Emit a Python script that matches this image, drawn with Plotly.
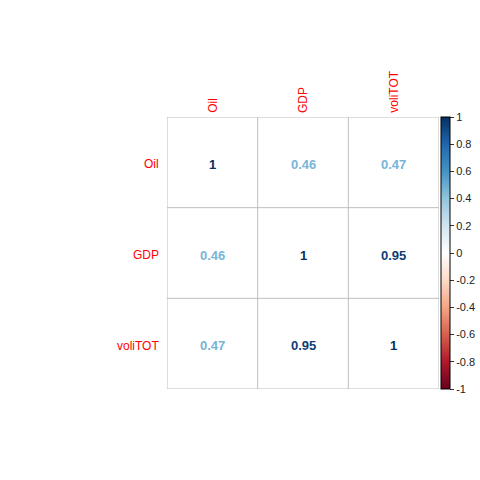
import plotly.graph_objects as go

variables = ["Oil", "GDP", "voliTOT"]
corr = [
    [1.00, 0.46, 0.47],
    [0.46, 1.00, 0.95],
    [0.47, 0.95, 1.00],
]
cbar_ticks = [1, 0.8, 0.6, 0.4, 0.2, 0, -0.2, -0.4, -0.6, -0.8, -1]

palette = ["#67001F", "#B2182B", "#D6604D", "#F4A582", "#FDDBC7", "#FFFFFF",
           "#D1E5F0", "#92C5DE", "#4393C3", "#2166AC", "#053061"]
n = len(palette)
colorscale = [[i / (n - 1), c] for i, c in enumerate(palette)]


def hex2rgb(h):
    h = h.lstrip("#")
    return [int(h[i:i + 2], 16) for i in (0, 2, 4)]


def val2color(v):
    t = (v + 1) / 2 * (n - 1)
    i = min(int(t), n - 2)
    f = t - i
    a, b = hex2rgb(palette[i]), hex2rgb(palette[i + 1])
    r = [round(a[k] + (b[k] - a[k]) * f) for k in range(3)]
    return "rgb(%d,%d,%d)" % tuple(r)


W = H = 480
x0, x1, y0, y1 = 167, 439, 117, 389

xs, ys, vals = [], [], []
for i, row in enumerate(corr):
    for j, v in enumerate(row):
        xs.append(j + 1)
        ys.append(i + 1)
        vals.append(v)

fig = go.Figure()
fig.add_trace(go.Scatter(
    x=xs, y=ys, mode="markers",
    marker=dict(color=vals, colorscale=colorscale, cmin=-1, cmax=1, opacity=0, size=1,
                showscale=True,
                colorbar=dict(
                    x=441 / W, xanchor="left", xpad=0,
                    y=1 - (y0 + y1) / 2 / H, yanchor="middle", ypad=0,
                    len=y1 - y0, lenmode="pixels", thickness=9, thicknessmode="pixels",
                    outlinecolor="black", outlinewidth=1,
                    tickvals=cbar_ticks, ticktext=["%g" % t for t in cbar_ticks],
                    ticks="outside", ticklen=4, tickcolor="#333",
                    tickfont=dict(family="Liberation Sans", size=11, color="#222"),
                )),
    hoverinfo="skip", showlegend=False,
))

for x, y, v in zip(xs, ys, vals):
    fig.add_annotation(x=x, y=y, xref="x", yref="y", text="%g" % v, showarrow=False,
                       xanchor="center", yanchor="middle", yshift=-2,
                       font=dict(family="Liberation Sans", size=13, color=val2color(v),
                                 weight="bold"))

# grid lines
for k in range(4):
    p = 0.5 + k
    fig.add_shape(type="line", x0=p, x1=p, y0=0.5, y1=3.5, line=dict(color="#BEBEBE", width=1))
    fig.add_shape(type="line", x0=0.5, x1=3.5, y0=p, y1=p, line=dict(color="#BEBEBE", width=1))

# labels
for i, name in enumerate(variables):
    fig.add_annotation(x=(x0 - 6) / W, y=i + 1, xref="paper", yref="y", text=name,
                       xanchor="right", yanchor="middle", showarrow=False, yshift=-2,
                       font=dict(family="Liberation Sans", size=12, color="#FF0000"))
    fig.add_annotation(x=i + 1, y=1 - (y0 - 5) / H, xref="x", yref="paper", text=name,
                       textangle=-90, xanchor="center", yanchor="bottom", showarrow=False,
                       yshift=-3,
                       font=dict(family="Liberation Sans", size=12, color="#FF0000"))

fig.update_layout(
    width=W, height=H, margin=dict(l=0, r=0, t=0, b=0),
    paper_bgcolor="white", plot_bgcolor="white",
    xaxis=dict(domain=[x0 / W, x1 / W], range=[0.5, 3.5], visible=False, fixedrange=True),
    yaxis=dict(domain=[1 - y1 / H, 1 - y0 / H], range=[3.5, 0.5], visible=False, fixedrange=True),
)
fig.write_html("out.html")
